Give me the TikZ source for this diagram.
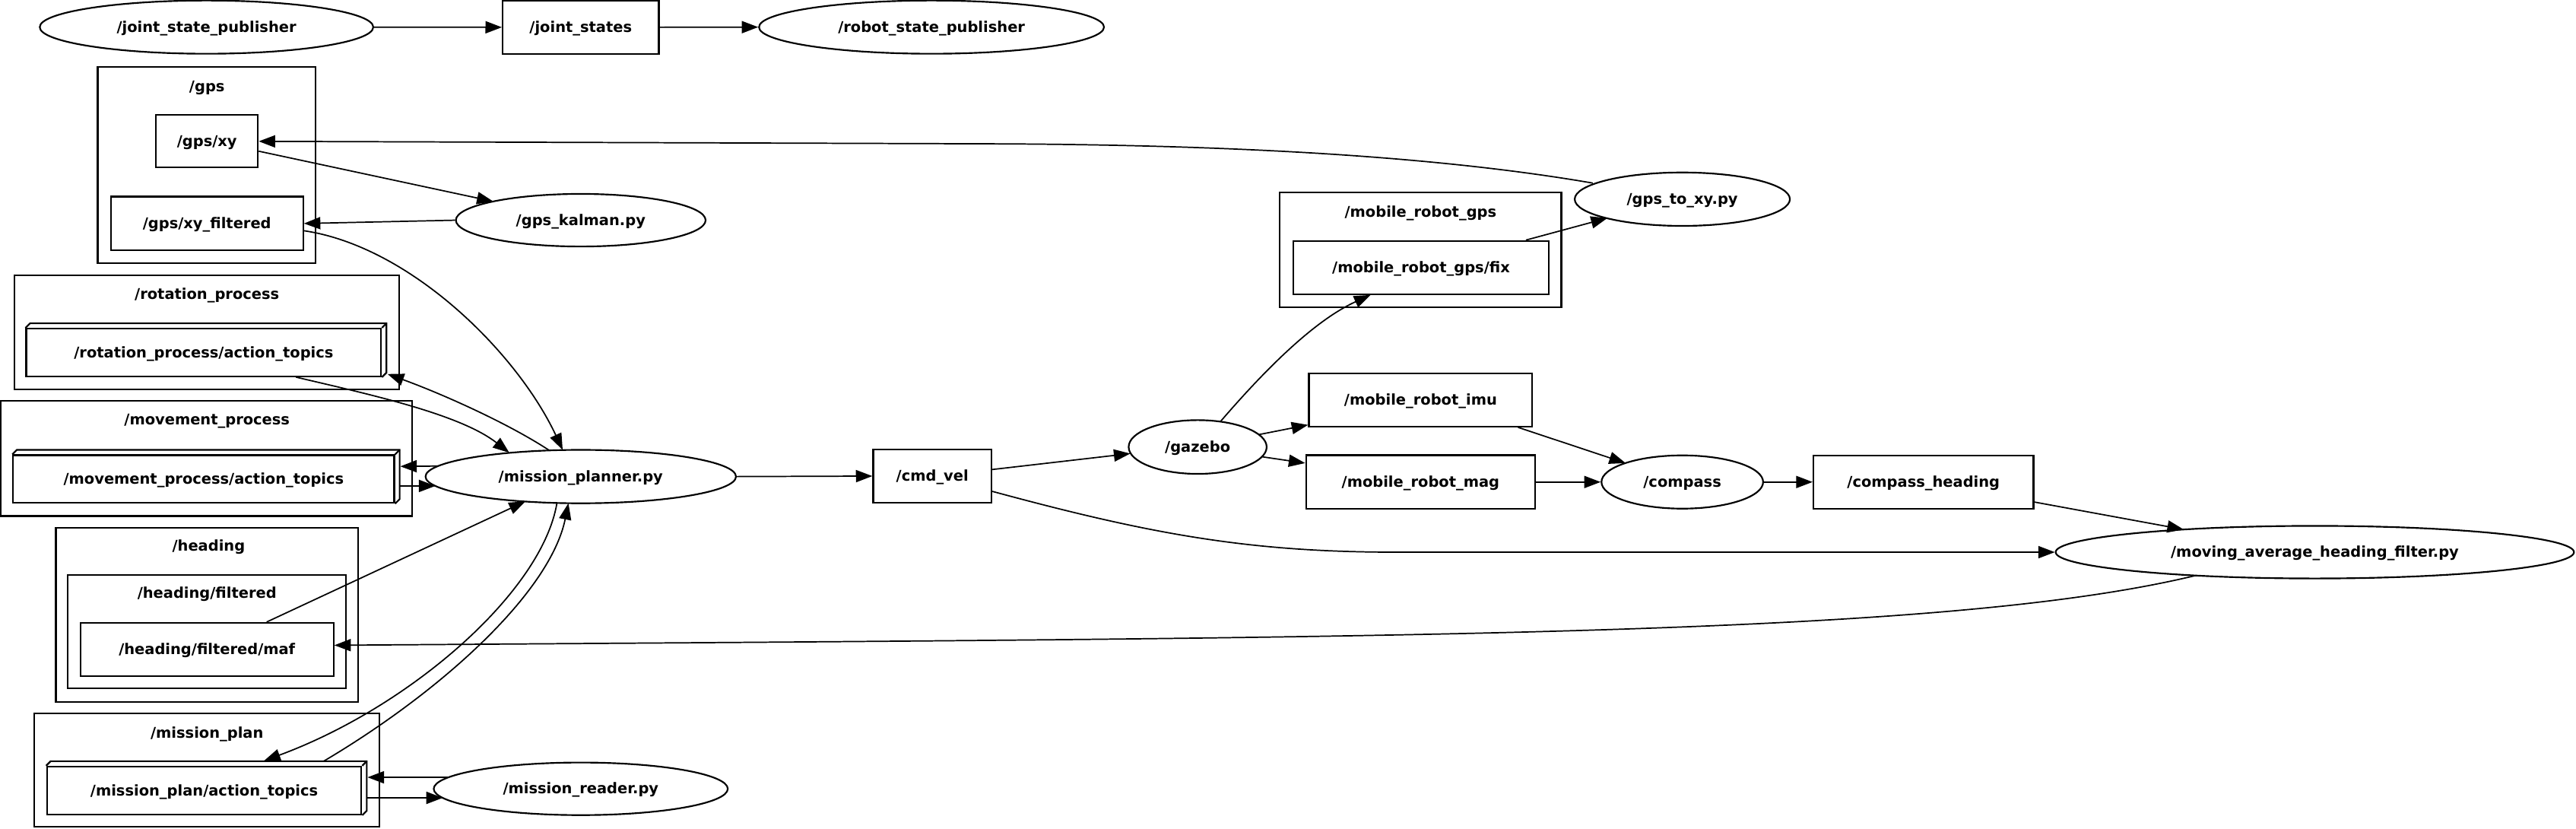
\documentclass[tikz,border=0pt]{standalone}
\usepackage{fontspec}
\setmainfont{DejaVu Sans}
\usetikzlibrary{shapes.geometric,arrows.meta,calc}
\begin{document}
\begin{tikzpicture}[x=1pt,y=-1pt,
  lbl/.style={font=\fontsize{9}{11}\selectfont\bfseries, text height=6.9pt, text depth=0.7pt, inner sep=0pt},
  brd/.style={draw, line width=1pt},
  topic/.style={lbl, brd, rectangle},
  ell/.style={lbl, brd, ellipse},
  clus/.style={brd, rectangle, inner sep=0pt},
  edge/.style={draw, line width=0.8pt, -{Triangle[length=10pt,width=7.4pt]}}
]
\useasboundingbox (0,0) rectangle (1568,504);

% ---------- clusters ----------
\node[clus, minimum width=132.5pt, minimum height=119.4pt] (gpsC) at (125.75,100.3) {};
\node[lbl] (gpsL) at (126,52.5) {/gps};
\node[clus, minimum width=234.2pt, minimum height=69.5pt] (rotC) at (125.9,202.25) {};
\node[lbl] (rotL) at (126,179) {/rotation\_process};
\node[clus, minimum width=250.5pt, minimum height=70pt] (movC) at (125.75,279) {};
\node[lbl] (movL) at (126,255.5) {/movement\_process};
\node[clus, minimum width=184pt, minimum height=106pt] (headC) at (126,374) {};
\node[lbl] (headL) at (127,332) {/heading};
\node[clus, minimum width=169.5pt, minimum height=69pt] (headfC) at (125.75,384.5) {};
\node[lbl] (headfL) at (126,361) {/heading/filtered};
\node[clus, minimum width=210pt, minimum height=69pt] (mplanC) at (126,468.5) {};
\node[lbl] (mplanL) at (126,446) {/mission\_plan};
\node[clus, minimum width=171.4pt, minimum height=69.8pt] (mrgC) at (864.7,151.9) {};
\node[lbl] (mrgL) at (864.7,128.8) {/mobile\_robot\_gps};

% ---------- nodes ----------
\node[ell, minimum width=203pt, minimum height=32.4pt] (jsp) at (125.7,16.5) {/joint\_state\_publisher};
\node[topic, minimum width=95pt, minimum height=32.6pt] (js) at (353.5,16.6) {/joint\_states};
\node[ell, minimum width=210pt, minimum height=32.4pt] (rsp) at (567,16.5) {/robot\_state\_publisher};

\node[topic, minimum width=62pt, minimum height=32pt] (gpsxy) at (126,86) {/gps/xy};
\node[topic, minimum width=117pt, minimum height=32.7pt] (gpsxyf) at (126,136) {/gps/xy\_filtered};
\node[ell, minimum width=152pt, minimum height=32pt] (kalman) at (353.5,134) {/gps\_kalman.py};

\node[topic, minimum width=216pt, minimum height=29pt] (rotat) at (124,214.5) {/rotation\_process/action\_topics};
\node[topic, minimum width=232pt, minimum height=29pt] (movat) at (124,291.5) {/movement\_process/action\_topics};
\node[topic, minimum width=154pt, minimum height=32.5pt] (maf) at (126,395.25) {/heading/filtered/maf};
\node[topic, minimum width=191.4pt, minimum height=29.1pt] (mplan) at (124.3,481) {/mission\_plan/action\_topics};
\node[ell, minimum width=179pt, minimum height=32pt] (reader) at (353.5,480) {/mission\_reader.py};

\node[ell, minimum width=189pt, minimum height=32.5pt] (mp) at (353.5,290) {/mission\_planner.py};
\node[topic, minimum width=72pt, minimum height=32.6pt] (cmd) at (567.5,289.7) {/cmd\_vel};
\node[ell, minimum width=84pt, minimum height=32.7pt] (gazebo) at (729,272) {/gazebo};
\node[topic, minimum width=155.4pt, minimum height=32.4pt] (fix) at (865,162.8) {/mobile\_robot\_gps/fix};
\node[ell, minimum width=131pt, minimum height=32.5pt] (g2xy) at (1024,121.2) {/gps\_to\_xy.py};
\node[topic, minimum width=136pt, minimum height=32.5pt] (imu) at (864.7,243.3) {/mobile\_robot\_imu};
\node[topic, minimum width=139.5pt, minimum height=32.6pt] (mag) at (864.7,293.3) {/mobile\_robot\_mag};
\node[ell, minimum width=98.4pt, minimum height=32.4pt] (compass) at (1024,293.3) {/compass};
\node[topic, minimum width=134pt, minimum height=32.4pt] (ch) at (1170.8,293.3) {/compass\_heading};
\node[ell, minimum width=315.5pt, minimum height=32pt] (mavg) at (1409,336) {/moving\_average\_heading\_filter.py};

% 3D box decoration
\foreach \n in {rotat,movat,mplan}{
  \draw[line width=1pt] (\n.north west) -- ++(2.75,-2.75) -| ($(\n.south east)+(2.75,-2.75)$) -- (\n.south east);
  \draw[line width=1pt] (\n.north east) -- ++(2.75,-2.75);
}

% ---------- edges ----------
\draw[edge] (jsp.east) -- (js.west);
\draw[edge] (js.east) -- (rsp.west);

\draw[edge] ($(gpsxy.east)+(0,6)$) -- ($(kalman.center)+(-53.2,-11.4)$);
\draw[edge] (kalman.west) -- (gpsxyf.east);
\draw[edge] ($(g2xy.center)+(-54.5,-9.8)$) .. controls (880,96) and (760,88) .. (600,87.5) -- (gpsxy.east);
\draw[edge] ($(gpsxyf.east)+(0,4.4)$) .. controls (250,150) and (315,215) .. ($(mp.center)+(-11,-16.2)$);

\draw[edge] ($(rotat.south)+(56.2,0)$) .. controls (225,240) and (280,252) .. ($(mp.center)+(-43.5,-14.5)$);
\draw[edge] ($(mp.center)+(-19.1,-15.9)$) .. controls (310,258) and (270,240) .. ($(rotat.south east)+(3.4,-1.9)$);
\draw[edge] ($(mp.center)+(-86.9,-6.4)$) -- ($(movat.east)+(3.2,-7.7)$);
\draw[edge] ($(movat.east)+(2.75,4.2)$) -- ($(mp.center)+(-88.5,5.7)$);
\draw[edge] ($(maf.north)+(36.3,0)$) -- ($(mp.center)+(-33.7,15.1)$);
\draw[edge] ($(mp.center)+(-14.5,16.1)$) .. controls (330,360) and (250,430) .. ($(mplan.north)+(36.4,-3)$);
\draw[edge] ($(mplan.north)+(72.7,-2.75)$) .. controls (270,420) and (335,360) .. ($(mp.center)+(-7.5,16.2)$);
\draw[edge] ($(reader.center)+(-80.5,-7)$) -- ($(mplan.east)+(3.25,-8)$);
\draw[edge] ($(mplan.east)+(2.75,4.5)$) -- ($(reader.center)+(-84,5.5)$);

\draw[edge] (mp.east) -- (cmd.west);
\draw[edge] ($(cmd.east)+(0,-4)$) -- ($(gazebo.center)+(-41,4)$);
\draw[edge] ($(cmd.east)+(0,9.3)$) .. controls (700,325) and (760,336) .. (850,336) -- (mavg.west);
\draw[edge] ($(gazebo.center)+(13.8,-15.4)$) .. controls (770,225) and (800,195) .. ($(fix.south)+(-30.8,0)$);
\draw[edge] ($(fix.north)+(63.8,0)$) -- ($(g2xy.center)+(-45.6,11.5)$);
\draw[edge] ($(gazebo.center)+(37,-7.5)$) -- ($(imu.south west)+(0,-1.5)$);
\draw[edge] ($(gazebo.center)+(39.5,6)$) -- ($(mag.north west)+(0,5.3)$);
\draw[edge] ($(imu.south east)+(-9.2,0)$) -- ($(compass.center)+(-34.5,-11.5)$);
\draw[edge] (mag.east) -- (compass.west);
\draw[edge] (compass.east) -- (ch.west);
\draw[edge] ($(ch.south east)+(0,-4.5)$) -- ($(mavg.center)+(-79.8,-13.8)$);
\draw[edge] ($(mavg.center)+(-72.5,14.2)$) .. controls (1180,388) and (850,388) .. ($(maf.east)+(0,-2.6)$);
\end{tikzpicture}
\end{document}
